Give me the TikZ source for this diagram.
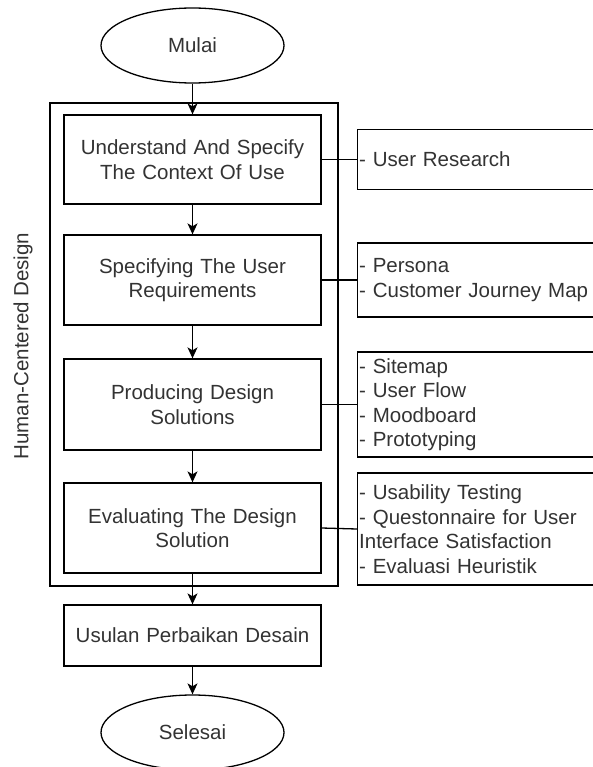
\documentclass[tikz,border=0pt]{standalone}
\usepackage{fontspec}
\setmainfont{Liberation Sans}
\usetikzlibrary{shapes.geometric,arrows.meta}
\definecolor{txt}{HTML}{333333}
\tikzset{
  base/.style={draw=black, line width=1.3pt, text=txt, font=\fontsize{20.5}{24.5}\selectfont, inner sep=0pt},
  term/.style={base, ellipse, minimum width=183pt, minimum height=75pt},
  stepbox/.style={base, rectangle, minimum width=257pt, text width=240pt, align=center},
  rbox/.style={base, rectangle, text width=252pt, inner xsep=1.5pt, inner ysep=0pt, align=left, anchor=west},
  flow/.style={draw=black, line width=1.3pt, -{Stealth[length=11pt,width=10pt,inset=3pt]}},
  link/.style={draw=black, line width=1.3pt}
}
\begin{document}
\begin{tikzpicture}[x=1pt,y=-1pt]
\useasboundingbox (0,0) rectangle (593,767);
\clip (0,0) rectangle (593,767);
\fill[white] (0,0) rectangle (593,767);

\node[base, rectangle, minimum width=288pt, minimum height=483pt] (hcd) at (194,344.5) {};
\node[text=txt, font=\fontsize{20.5}{24.5}\selectfont, rotate=90, inner sep=0pt] (lbl) at (23,346) {Human-Centered Design};

\node[term] (mulai) at (192.5,45.5) {Mulai};
\node[stepbox, minimum height=89pt] (b1) at (192.5,159.5) {Understand And Specify\\The Context Of Use};
\node[stepbox, minimum height=90pt] (b2) at (192.5,280) {Specifying The User\\Requirements};
\node[stepbox, minimum height=91pt] (b3) at (192.5,404.5) {Producing Design\\Solutions};
\node[stepbox, minimum height=90pt] (b4) at (192.5,528) {Evaluating The Design\\Solution};
\node[stepbox, minimum height=61pt] (us) at (192.5,635.5) {Usulan Perbaikan Desain};
\node[term] (selesai) at (192.5,732.5) {Selesai};

\node[rbox, minimum height=60pt] (r1) at (357,159.5) {- User Research};
\node[rbox, minimum height=74pt] (r2) at (357,280) {- Persona\\- Customer Journey Map};
\node[rbox, minimum height=105pt] (r3) at (357,404.5) {- Sitemap\\- User Flow\\- Moodboard\\- Prototyping};
\node[rbox, minimum height=112pt] (r4) at (357,529) {- Usability Testing\\- Questonnaire for User\\Interface Satisfaction\\- Evaluasi Heuristik};

\draw[flow] (mulai.south) -- (b1.north);
\draw[flow] (b1.south) -- (b2.north);
\draw[flow] (b2.south) -- (b3.north);
\draw[flow] (b3.south) -- (b4.north);
\draw[flow] (b4.south) -- (us.north);
\draw[flow] (us.south) -- (selesai.north);

\draw[link] (b1.east) -- (r1.west);
\draw[link] (b2.east) -- (r2.west);
\draw[link] (b3.east) -- (r3.west);
\draw[link] (b4.east) -- (r4.west);
\end{tikzpicture}
\end{document}
